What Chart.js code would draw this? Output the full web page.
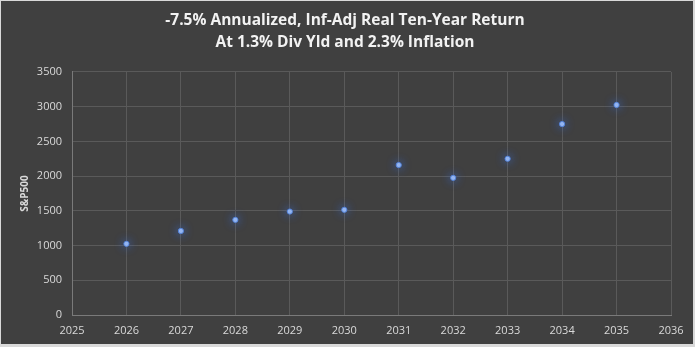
<!DOCTYPE html>
<html>
<head>
<meta charset="utf-8">
<script src="https://cdn.jsdelivr.net/npm/chart.js@4.4.1/dist/chart.umd.min.js"></script>
<style>
  html, body { margin: 0; padding: 0; background: #d9d9d9; }
  #wrap { position: absolute; left: 1px; top: 1px; width: 692px; height: 343px; background: #404040; }
</style>
</head>
<body>
<div id="wrap"><canvas id="chart"></canvas></div>
<script>
// S&P500 path, one point per year
const years = [2026, 2027, 2028, 2029, 2030, 2031, 2032, 2033, 2034, 2035];
const sp500 = [1025, 1210, 1370, 1490, 1515, 2160, 1975, 2250, 2750, 3025];
const titleLines = ['-7.5% Annualized, Inf-Adj Real Ten-Year Return', 'At 1.3% Div Yld and 2.3% Inflation'];
const yAxisTitle = 'S&P500';

const textColor = '#d9d9d9';
const gridColor = '#5a5a5a';

// soft blue halo around each marker
const glow = {
  id: 'glow',
  beforeDatasetDraw(chart) {
    const ctx = chart.ctx;
    ctx.save();
    ctx.shadowColor = 'rgba(60,110,220,1)';
    ctx.shadowBlur = 10;
  },
  afterDatasetDraw(chart) {
    chart.ctx.restore();
  }
};

new Chart(document.getElementById('chart'), {
  type: 'scatter',
  data: {
    datasets: [{
      data: years.map((y, i) => ({ x: y, y: sp500[i] })),
      backgroundColor: '#9dbcf2',
      borderColor: 'rgba(80,130,220,0.9)',
      borderWidth: 1,
      pointRadius: 2.6,
      pointHoverRadius: 2.6
    }]
  },
  options: {
    responsive: true,
    maintainAspectRatio: false,
    animation: false,
    layout: { padding: { left: 18, right: 22, top: 8, bottom: 0 } },
    plugins: {
      legend: { display: false },
      tooltip: { enabled: false },
      title: {
        display: true,
        text: titleLines,
        color: '#f2f2f2',
        font: { family: 'Open Sans', size: 15.5, weight: 'bold', lineHeight: 1.45 },
        padding: { top: 0, bottom: 18 }
      }
    },
    scales: {
      x: {
        type: 'linear',
        min: 2025,
        max: 2036,
        ticks: {
          stepSize: 1,
          color: textColor,
          font: { family: 'Open Sans', size: 11 },
          callback: v => String(v),
          maxRotation: 0,
          padding: 9
        },
        grid: { color: gridColor, drawTicks: false },
        border: { color: '#7a7a7a' },
        afterFit(scale) { scale.height = 29; }
      },
      y: {
        min: 0,
        max: 3500,
        ticks: {
          stepSize: 500,
          color: textColor,
          font: { family: 'Open Sans', size: 11 },
          callback: v => String(v),
          padding: 10
        },
        grid: { color: gridColor, drawTicks: false },
        border: { color: '#7a7a7a' },
        title: {
          display: true,
          text: yAxisTitle,
          color: textColor,
          font: { family: 'Open Sans', size: 10, weight: 'bold' },
          padding: { top: 0, bottom: 4 }
        },
        afterFit(scale) { scale.width = 53; }
      }
    }
  },
  plugins: [glow]
});
</script>
</body>
</html>
